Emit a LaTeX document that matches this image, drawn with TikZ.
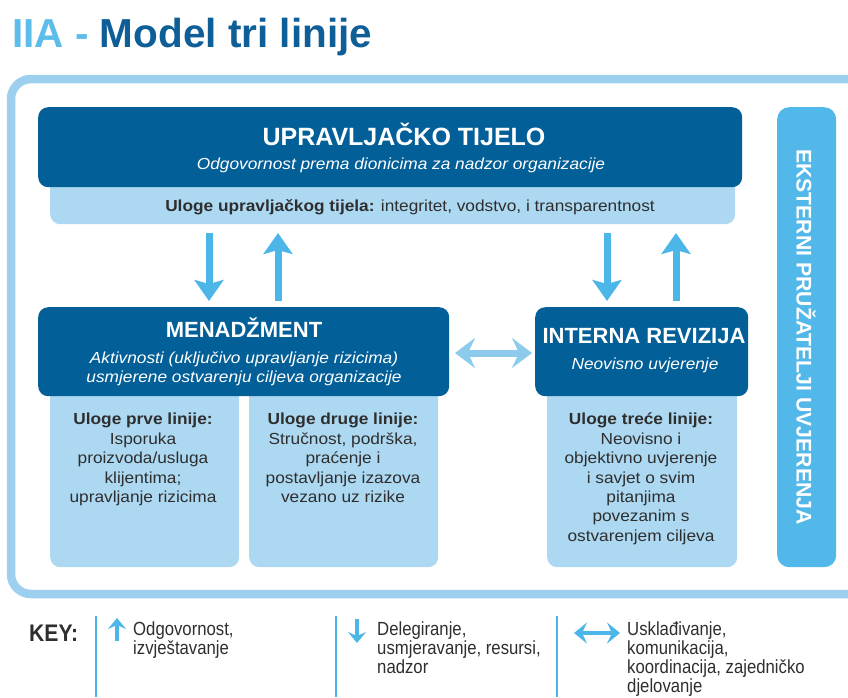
\documentclass[tikz,border=0pt]{standalone}
\usepackage{fontspec}
\setmainfont{Liberation Sans}
\newfontfamily\narrowfont[FakeStretch=0.88]{Liberation Sans}
\newfontfamily\widefont[FakeStretch=1.08]{Liberation Sans}
\usetikzlibrary{arrows.meta}
\definecolor{darkblue}{HTML}{035F98}
\definecolor{lightbox}{HTML}{ADD8F2}
\definecolor{framecol}{HTML}{9DD0EE}
\definecolor{arrowcol}{HTML}{4DB6E8}
\definecolor{barcol}{HTML}{52B8E9}
\definecolor{dblcol}{HTML}{8CCBEB}
\definecolor{titlelight}{HTML}{5CBDEA}
\definecolor{titledark}{HTML}{0E5E97}
\definecolor{bodytext}{HTML}{2E2E2E}
\tikzset{
  darkbox/.style={fill=darkblue, rounded corners=10pt, anchor=north west, inner sep=0pt},
  lightpanel/.style={fill=lightbox, rounded corners=10pt, anchor=north west, inner sep=0pt},
  headtxt/.style={text=white, font=\bfseries\fontsize{25}{28}\selectfont, anchor=base, inner sep=0pt},
  subtxt/.style={text=white, font=\widefont\itshape\fontsize{16}{19}\selectfont, anchor=base, inner sep=0pt, align=center},
  roletxt/.style={text=bodytext, font=\widefont\fontsize{16}{19.4}\selectfont, anchor=north, inner sep=0pt, align=center},
  bigarrow/.style={draw=arrowcol, line width=7pt, -{Stealth[length=21pt,width=29pt,inset=4pt]}},
  dblarrow/.style={draw=dblcol, line width=7pt, {Stealth[length=20pt,width=30pt,inset=7pt]}-{Stealth[length=20pt,width=30pt,inset=7pt]}},
  keyarrow/.style={draw=arrowcol, line width=3.5pt, -{Stealth[length=11pt,width=18pt,inset=4pt]}},
  keydbl/.style={draw=arrowcol, line width=3.5pt, {Stealth[length=13pt,width=21pt,inset=5pt]}-{Stealth[length=13pt,width=21pt,inset=5pt]}},
  keytxt/.style={text=bodytext, font=\narrowfont\fontsize{19}{19}\selectfont, anchor=north west, inner sep=0pt, align=left},
  sepline/.style={draw=arrowcol, line width=2pt}
}
\begin{document}
\begin{tikzpicture}[x=1pt,y=-1pt]
\useasboundingbox (0,0) rectangle (848,697);
\clip (0,0) rectangle (848,697);

% title
\node[anchor=base west, inner sep=0pt, font=\bfseries\fontsize{40.5}{45}\selectfont] (title) at (12,47)
  {\textcolor{titlelight}{IIA -} \textcolor{titledark}{Model tri linije}};

% outer frame
\draw[draw=framecol, line width=8.5pt, rounded corners=20pt] (11,79) rectangle (870,594);

% top body
\node[lightpanel, minimum width=685pt, minimum height=54pt] (strip) at (50,170) {};
\node[darkbox, minimum width=704pt, minimum height=80pt] (board) at (38,107) {};
\node[headtxt] (boardtitle) at (404,145) {UPRAVLJAČKO TIJELO};
\node[subtxt] (boardsub) at (401,169) {Odgovornost prema dionicima za nadzor organizacije};
\node[anchor=base, inner sep=0pt, text=bodytext, font=\widefont\fontsize{16}{18}\selectfont] (striptxt) at (410,211)
  {\textbf{Uloge upravljačkog tijela:} integritet, vodstvo, i transparentnost};

% management
\node[lightpanel, minimum width=189pt, minimum height=187pt] (first) at (50,380) {};
\node[lightpanel, minimum width=189pt, minimum height=187pt] (second) at (249,380) {};
\node[darkbox, minimum width=411pt, minimum height=89pt] (mgmt) at (38,307) {};
\node[headtxt, font=\bfseries\fontsize{22}{26}\selectfont] (mgmttitle) at (244,337) {MENADŽMENT};
\node[subtxt] (mgmtsub) at (244,363) {Aktivnosti (uključivo upravljanje rizicima)};
\node[subtxt] (mgmtsub2) at (244,382) {usmjerene ostvarenju ciljeva organizacije};
\node[roletxt] (firsttxt) at (143,413) {\textbf{Uloge prve linije:}\\Isporuka\\proizvoda/usluga\\klijentima;\\upravljanje rizicima};
\node[roletxt] (secondtxt) at (343,413) {\textbf{Uloge druge linije:}\\Stručnost, podrška,\\praćenje i\\postavljanje izazova\\vezano uz rizike};

% internal audit
\node[lightpanel, minimum width=190pt, minimum height=187pt] (third) at (547,380) {};
\node[darkbox, minimum width=213pt, minimum height=89pt] (audit) at (535,307) {};
\node[headtxt, font=\bfseries\fontsize{22}{26}\selectfont] (audittitle) at (644,343) {INTERNA REVIZIJA};
\node[subtxt] (auditsub) at (645,369) {Neovisno uvjerenje};
\node[roletxt] (thirdtxt) at (641,413) {\textbf{Uloge treće linije:}\\Neovisno i\\objektivno uvjerenje\\i savjet o svim\\pitanjima\\povezanim s\\ostvarenjem ciljeva};

% external bar
\node[fill=barcol, rounded corners=12pt, anchor=north west, inner sep=0pt, minimum width=59pt, minimum height=460pt] (external) at (777,107) {};
\node[rotate=-90, text=white, font=\bfseries\fontsize{21.2}{24}\selectfont, inner sep=0pt] (exttxt) at (806,337) {EKSTERNI PRUŽATELJI UVJERENJA};

% vertical arrows
\coordinate (d1s) at (209,233); \coordinate (d1e) at (209,301);
\coordinate (u1s) at (278,301); \coordinate (u1e) at (278,233);
\coordinate (d2s) at (607,233); \coordinate (d2e) at (607,301);
\coordinate (u2s) at (676,301); \coordinate (u2e) at (676,233);
\draw[bigarrow] (d1s) -- (d1e);
\draw[bigarrow] (u1s) -- (u1e);
\draw[bigarrow] (d2s) -- (d2e);
\draw[bigarrow] (u2s) -- (u2e);

% horizontal double arrow
\coordinate (h1) at (455,353);
\coordinate (h2) at (532,353);
\draw[dblarrow] (h1) -- (h2);

% key
\node[anchor=base west, inner sep=0pt, text=bodytext, font=\narrowfont\bfseries\fontsize{24}{26}\selectfont] (keylbl) at (29,641) {KEY:};
\coordinate (s1t) at (96,616); \coordinate (s1b) at (96,697);
\coordinate (s2t) at (336,616); \coordinate (s2b) at (336,697);
\coordinate (s3t) at (557,616); \coordinate (s3b) at (557,697);
\draw[sepline] (s1t) -- (s1b);
\draw[sepline] (s2t) -- (s2b);
\draw[sepline] (s3t) -- (s3b);
\coordinate (k1s) at (117,641); \coordinate (k1e) at (117,618);
\draw[keyarrow] (k1s) -- (k1e);
\node[keytxt] (k1txt) at (133,622) {Odgovornost,\\izvještavanje};
\coordinate (k2s) at (357,619); \coordinate (k2e) at (357,643);
\draw[keyarrow] (k2s) -- (k2e);
\node[keytxt] (k2txt) at (377,622) {Delegiranje,\\usmjeravanje, resursi,\\nadzor};
\coordinate (k3s) at (574,633); \coordinate (k3e) at (620,633);
\draw[keydbl] (k3s) -- (k3e);
\node[keytxt] (k3txt) at (627,622) {Usklađivanje,\\komunikacija,\\koordinacija, zajedničko\\djelovanje};
\end{tikzpicture}
\end{document}
